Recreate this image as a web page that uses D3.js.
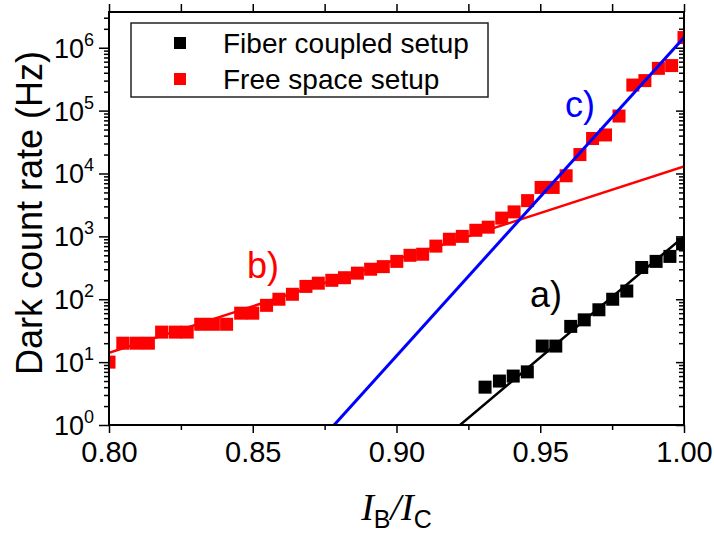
<!DOCTYPE html>
<html>
<head>
<meta charset="utf-8">
<script src="https://cdn.jsdelivr.net/npm/d3@7"></script>
<style>
  body { margin: 0; background: #fff; }
  svg text { font-family: "Liberation Sans", Arial, sans-serif; }
</style>
</head>
<body>
<svg width="714" height="536"></svg>
<script>
// free space setup (red squares)
var freeX = [0.8000, 0.8048, 0.8094, 0.8137, 0.8183, 0.8230, 0.8272, 0.8319, 0.8363, 0.8409,
             0.8458, 0.8500, 0.8548, 0.8591, 0.8638, 0.8685, 0.8728, 0.8775, 0.8819, 0.8864,
             0.8910, 0.8954, 0.9001, 0.9047, 0.9091, 0.9137, 0.9184, 0.9229, 0.9276, 0.9319,
             0.9366, 0.9409, 0.9456, 0.9503, 0.9545, 0.9590, 0.9638, 0.9682, 0.9727, 0.9774,
             0.9822, 0.9864, 0.9911, 0.9957, 1.0000];
var freeY = [10, 20, 20, 20, 30, 30, 30, 40, 40, 40,
             60, 60, 80, 100, 120, 160, 180, 200, 220, 260,
             300, 330, 400, 500, 520, 700, 900, 1000, 1250, 1400,
             1950, 2450, 3700, 6000, 6000, 9200, 20000, 36000, 41000, 82000,
             255000, 300000, 470000, 520000, 1450000];

// fiber coupled setup (black squares)
var fiberX = [0.9308, 0.9358, 0.9406, 0.9455, 0.9507, 0.9554, 0.9606, 0.9653, 0.9704, 0.9752,
              0.9801, 0.9853, 0.9903, 0.9951, 0.9995];
var fiberY = [4, 5, 6, 7, 18, 18, 37, 47, 68, 100, 135, 320, 400, 480, 760];

// fitted lines, end points
var fitAX = [0.9221, 1.00], fitAY = [1, 1000];
var fitBX = [0.80, 1.00],   fitBY = [14, 13000];
var fitCX = [0.8783, 1.00], fitCY = [1, 1450000];

var xTicks = [0.80, 0.85, 0.90, 0.95, 1.00];
var xTickLabels = ["0.80", "0.85", "0.90", "0.95", "1.00"];
var xMinor = [0.825, 0.875, 0.925, 0.975];
var yExps = [0, 1, 2, 3, 4, 5, 6];

var svg = d3.select("svg"),
    pL = 109, pR = 684, pT = 12, pB = 425;

var x = d3.scaleLinear().domain([0.80, 1.00]).range([pL, pR]);
var y = d3.scaleLog().domain([1, 3.7e6]).range([pB, pT]);

var yMajor = yExps.map(function(e) { return Math.pow(10, e); });
var yMinor = [];
yExps.forEach(function(e) {
  for (var m = 2; m <= 9; m++) {
    var v = m * Math.pow(10, e);
    if (v < y.domain()[1]) yMinor.push(v);
  }
});

svg.append("defs").append("clipPath").attr("id", "plot")
  .append("rect").attr("x", pL).attr("y", pT).attr("width", pR - pL).attr("height", pB - pT);

var g = svg.append("g").attr("clip-path", "url(#plot)");

function fitLine(xs, ys, color, w) {
  g.append("path")
    .datum(xs.map(function(d, i) { return [d, ys[i]]; }))
    .attr("fill", "none")
    .attr("stroke", color)
    .attr("stroke-width", w)
    .attr("d", d3.line().x(function(d) { return x(d[0]); }).y(function(d) { return y(d[1]); }));
}

var sq = 13;
function squares(xs, ys, color) {
  g.selectAll(null)
    .data(xs.map(function(d, i) { return [d, ys[i]]; }))
    .enter().append("rect")
      .attr("x", function(d) { return x(d[0]) - sq / 2; })
      .attr("y", function(d) { return y(d[1]) - sq / 2; })
      .attr("width", sq).attr("height", sq)
      .attr("fill", color);
}

fitLine(fitBX, fitBY, "#ff0000", 2.5);
squares(fiberX, fiberY, "#000");
squares(freeX, freeY, "#ff0000");
fitLine(fitAX, fitAY, "#000", 2.5);
fitLine(fitCX, fitCY, "#0000ff", 3);

// axes
var bx = svg.append("g").attr("transform", "translate(0," + pB + ")")
  .call(d3.axisBottom(x).tickValues(xTicks).tickSize(8).tickSizeOuter(0)
    .tickFormat(function(d, i) { return xTickLabels[i]; }));
bx.selectAll("text").attr("font-size", 29).attr("dy", "0.9em").attr("fill", "#000");
svg.append("g").attr("transform", "translate(0," + pB + ")")
  .call(d3.axisBottom(x).tickValues(xMinor).tickSize(5).tickSizeOuter(0).tickFormat(""));

svg.append("g").attr("transform", "translate(0," + pT + ")")
  .call(d3.axisTop(x).tickValues(xTicks.concat(xMinor)).tickSize(8).tickSizeOuter(0).tickFormat(""));

svg.append("g").attr("transform", "translate(" + pL + ",0)")
  .call(d3.axisLeft(y).tickValues(yMajor).tickSize(10).tickSizeOuter(0).tickFormat(""));
svg.append("g").attr("transform", "translate(" + pL + ",0)")
  .call(d3.axisLeft(y).tickValues(yMinor).tickSize(5).tickSizeOuter(0).tickFormat(""));

// right side ticks point inward
svg.append("g").attr("transform", "translate(" + pR + ",0)")
  .call(d3.axisRight(y).tickValues(yMajor).tickSize(-8).tickSizeOuter(0).tickFormat(""));
svg.append("g").attr("transform", "translate(" + pR + ",0)")
  .call(d3.axisRight(y).tickValues(yMinor).tickSize(-5).tickSizeOuter(0).tickFormat(""));

svg.selectAll(".domain").attr("stroke", "none");
svg.selectAll(".tick line").attr("stroke", "#000").attr("stroke-width", 1.5);

// frame
svg.append("rect")
  .attr("x", pL).attr("y", pT).attr("width", pR - pL).attr("height", pB - pT)
  .attr("fill", "none").attr("stroke", "#000").attr("stroke-width", 2);

// y tick labels 10^n
var yl = svg.append("g").selectAll("text")
  .data(yExps)
  .enter().append("text")
    .attr("x", 94)
    .attr("y", function(d) { return y(Math.pow(10, d)) + 10; })
    .attr("text-anchor", "end")
    .attr("font-size", 27);
yl.append("tspan").text("10");
yl.append("tspan").attr("font-size", 18).attr("dy", -12).text(function(d) { return d; });

// axis titles
svg.append("text")
  .attr("transform", "translate(42,213) rotate(-90)")
  .attr("text-anchor", "middle")
  .attr("font-size", 36)
  .text("Dark count rate (Hz)");

var xt = svg.append("text")
  .attr("x", (pL + pR) / 2).attr("y", 520)
  .attr("text-anchor", "middle")
  .attr("font-size", 38);
xt.append("tspan").attr("font-family", "Liberation Serif").attr("font-style", "italic").text("I");
xt.append("tspan").attr("font-size", 25).attr("dy", 8).text("B");
xt.append("tspan").attr("font-family", "Liberation Serif").attr("font-style", "italic").attr("dy", -8).text("/I");
xt.append("tspan").attr("font-size", 25).attr("dy", 8).text("C");

// curve labels
svg.append("text").attr("x", 530).attr("y", 307).attr("font-size", 36).attr("fill", "#000").text("a)");
svg.append("text").attr("x", 247).attr("y", 278).attr("font-size", 36).attr("fill", "#ff0000").text("b)");
svg.append("text").attr("x", 565).attr("y", 117).attr("font-size", 36).attr("fill", "#0000ff").text("c)");

// legend
var legendNames = ["Fiber coupled setup", "Free space setup"];
var legendColors = ["#000", "#ff0000"];
svg.append("rect").attr("x", 131).attr("y", 23).attr("width", 357).attr("height", 74)
  .attr("fill", "#fff").attr("stroke", "#222").attr("stroke-width", 1.5);
var lg = svg.selectAll(".lg").data(legendNames).enter().append("g")
  .attr("transform", function(d, i) { return "translate(0," + (43 + i * 36) + ")"; });
lg.append("rect").attr("x", 174).attr("y", -6).attr("width", 12).attr("height", 12)
  .attr("fill", function(d, i) { return legendColors[i]; });
lg.append("text").attr("x", 223).attr("y", 10).attr("font-size", 28).text(function(d) { return d; });
</script>
</body>
</html>
